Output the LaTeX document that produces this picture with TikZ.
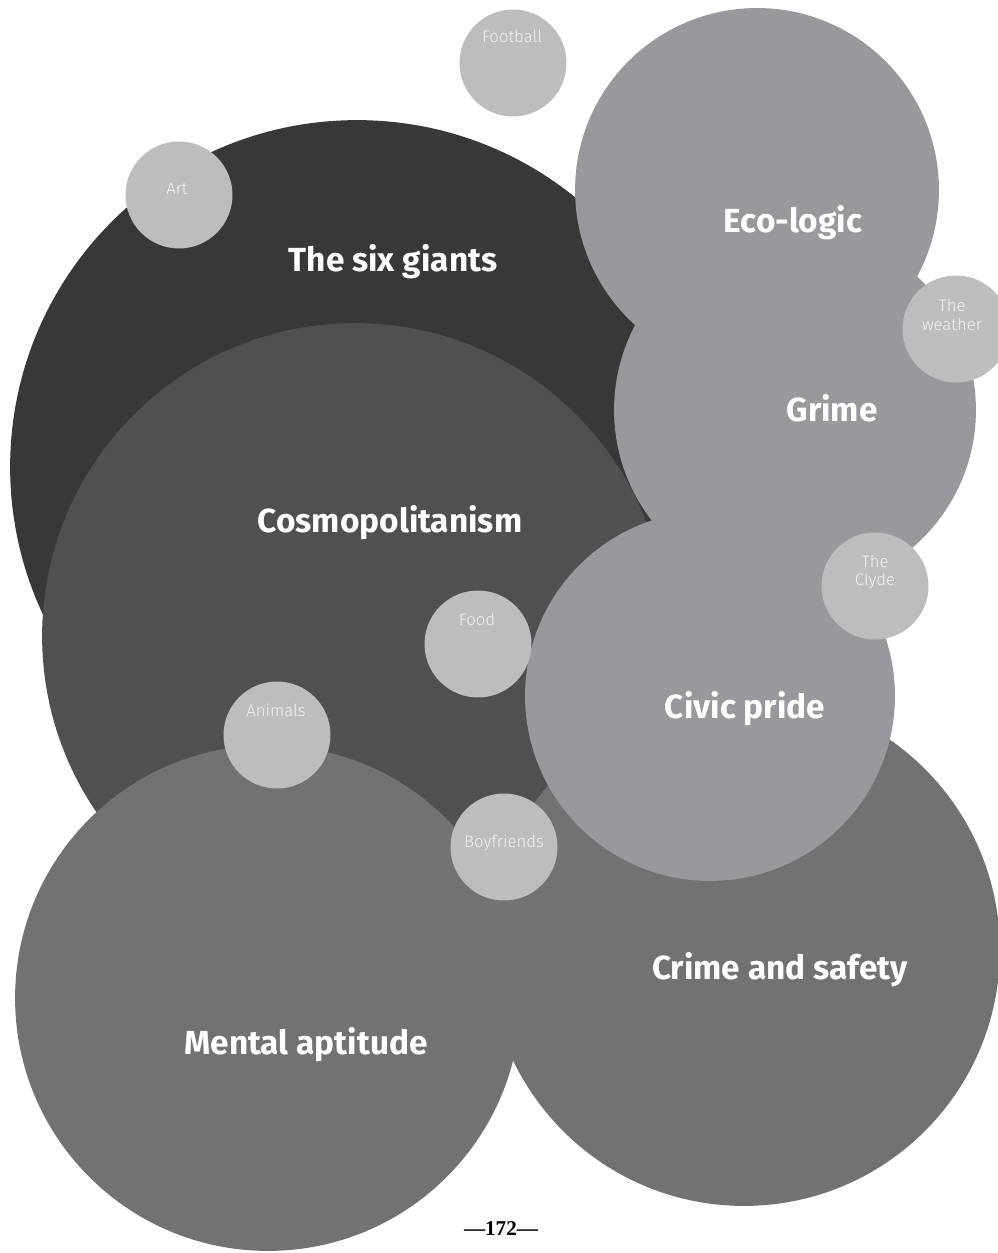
\documentclass[tikz,border=0pt]{standalone}
\usepackage{fontspec}
\setmainfont{Liberation Serif}
\newfontfamily\themefont{Fira Sans}
\newfontfamily\tagfont{Fira Sans Light}

\definecolor{giantsgrey}{HTML}{383838}
\definecolor{cosmogrey}{HTML}{505052}
\definecolor{palegrey}{HTML}{98999C}
\definecolor{midgrey}{HTML}{727275}
\definecolor{taggrey}{HTML}{BCBDBF}
\definecolor{tagwhite}{HTML}{F4F4F4}

\tikzset{
  bubble/.style={circle, inner sep=0pt, fill=#1},
  rad/.style={minimum size=#1*0.04cm},
  tag/.style={circle, inner sep=0pt, fill=taggrey, minimum size=2.14cm},
  theme/.style={text=white, anchor=base, inner sep=0pt,
    font=\themefont\bfseries\fontsize{19}{22}\selectfont},
  taglabel/.style={text=tagwhite, inner sep=0pt, align=center,
    font=\tagfont\fontsize{9.5}{10.8}\selectfont}
}

\begin{document}
\begin{tikzpicture}[x=0.02cm, y=-0.02cm]

\useasboundingbox (0,0) rectangle (997,1253);

% big themes
\node[bubble=giantsgrey, rad=347] (giants) at (357,467) {};
\node[bubble=cosmogrey, rad=313] (cosmo) at (355,636) {};
\node[bubble=palegrey, rad=182] (eco) at (757,190) {};
\node[bubble=palegrey, rad=181] (grime) at (795,410) {};

% small tags at the top
\node[tag] (art) at (179,195) {};
\node[tag] (football) at (513,63) {};
\node[tag] (weather) at (956,329) {};

% lower themes
\node[bubble=midgrey, rad=253] (mental) at (268,998) {};
\node[bubble=midgrey, rad=256] (crime) at (744,950) {};
\node[bubble=palegrey, rad=185] (civic) at (710,696) {};

% small tags below
\node[tag] (food) at (478,644) {};
\node[tag] (clyde) at (875,586) {};
\node[tag] (animals) at (277,735) {};
\node[tag] (boyfriends) at (504,847) {};

% theme labels
\node[theme] (giantslbl) at (393,272) {The six giants};
\node[theme] (cosmolbl) at (390,532) {Cosmopolitanism};
\node[theme] (ecolbl) at (793,233) {Eco-logic};
\node[theme] (grimelbl) at (832,421) {Grime};
\node[theme] (civiclbl) at (745,718) {Civic pride};
\node[theme] (crimelbl) at (780,979) {Crime and safety};
\node[theme] (mentallbl) at (306,1054) {Mental aptitude};

% tag labels
\node[taglabel, anchor=base] (footballlbl) at (512,43) {Football};
\node[taglabel, anchor=base] (artlbl) at (177,195) {Art};
\node[taglabel, anchor=base] (foodlbl) at (477,625) {Food};
\node[taglabel, anchor=base] (animalslbl) at (276,716) {Animals};
\node[taglabel, anchor=base] (boyfriendslbl) at (504,847) {Boyfriends};
\node[taglabel] (clydelbl) at (875,572) {The\\Clyde};
\node[taglabel] (weatherlbl) at (952,315) {The\\weather};

% page number
\node[anchor=base, font=\bfseries\fontsize{12}{14}\selectfont] (folio)
  at (501,1235) {---172---};

\end{tikzpicture}
\end{document}
